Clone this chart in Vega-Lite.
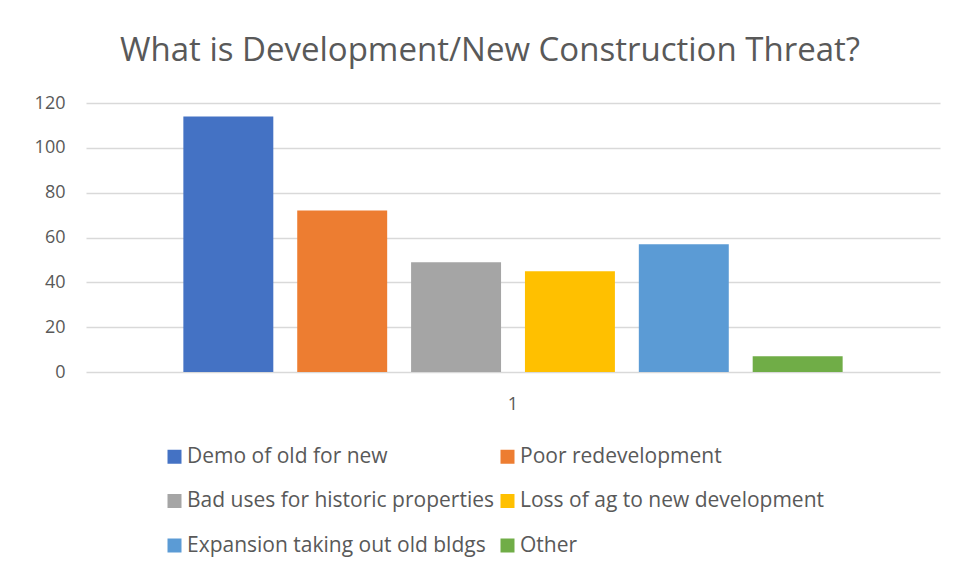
{
  "$schema": "https://vega.github.io/schema/vega-lite/v6.json",
  "autosize": {"type": "none"},
  "width": 854,
  "height": 269,
  "padding": {"left": 86, "top": 103, "right": 16, "bottom": 204},
  "background": "white",
  "title": {
    "text": "What is Development/New Construction Threat?",
    "font": "Open Sans",
    "fontSize": 33,
    "fontWeight": "normal",
    "color": "#595959",
    "anchor": "middle",
    "dx": -23,
    "offset": 26
  },
  "data": {
    "values": [
      {"cat": "1", "series": "Demo of old for new", "value": 114},
      {"cat": "1", "series": "Poor redevelopment", "value": 72},
      {"cat": "1", "series": "Bad uses for historic properties", "value": 49},
      {"cat": "1", "series": "Loss of ag to new development", "value": 45},
      {"cat": "1", "series": "Expansion taking out old bldgs", "value": 57},
      {"cat": "1", "series": "Other", "value": 7}
    ]
  },
  "mark": {"type": "bar"},
  "encoding": {
    "x": {
      "field": "cat",
      "type": "nominal",
      "scale": {"paddingInner": 0, "paddingOuter": 0.125},
      "axis": {
        "title": null,
        "labelAngle": 0,
        "ticks": false,
        "domain": false,
        "labelFont": "Open Sans",
        "labelFontSize": 18,
        "labelColor": "#595959",
        "labelPadding": 23
      }
    },
    "xOffset": {
      "field": "series",
      "type": "nominal",
      "sort": null,
      "scale": {"paddingInner": 0.21, "paddingOuter": 0.105}
    },
    "y": {
      "field": "value",
      "type": "quantitative",
      "scale": {"domain": [0, 120]},
      "axis": {
        "title": null,
        "values": [0, 20, 40, 60, 80, 100, 120],
        "ticks": false,
        "domain": false,
        "gridColor": "#d9d9d9",
        "gridWidth": 1.5,
        "labelFont": "Open Sans",
        "labelFontSize": 18,
        "labelColor": "#595959",
        "labelPadding": 21
      }
    },
    "color": {
      "field": "series",
      "type": "nominal",
      "sort": null,
      "scale": {
        "domain": ["Demo of old for new", "Poor redevelopment", "Bad uses for historic properties", "Loss of ag to new development", "Expansion taking out old bldgs", "Other"],
        "range": ["#4472C4", "#ED7D31", "#A5A5A5", "#FFC000", "#5B9BD5", "#70AD47"]
      },
      "legend": {
        "title": null,
        "orient": "none",
        "legendX": 78,
        "legendY": 343,
        "direction": "horizontal",
        "columns": 2,
        "columnPadding": 3,
        "rowPadding": 22.5,
        "symbolType": "square",
        "symbolSize": 196,
        "symbolStrokeWidth": 0,
        "symbolOpacity": 1,
        "labelFont": "Open Sans",
        "labelFontSize": 21,
        "labelColor": "#595959",
        "labelOffset": 2,
        "labelLimit": 400
      }
    }
  },
  "config": {
    "view": {"stroke": null}
  }
}
